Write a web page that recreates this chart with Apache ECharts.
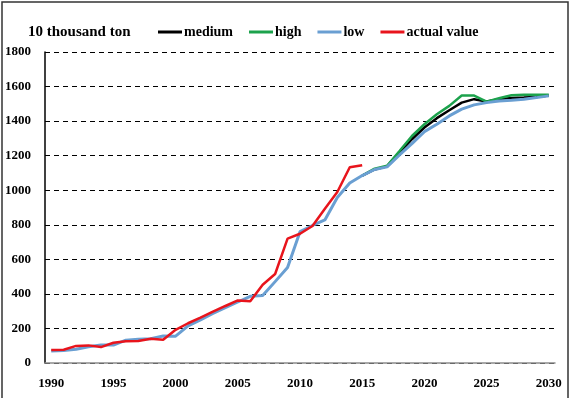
<!DOCTYPE html>
<html>
<head>
<meta charset="utf-8">
<script src="https://cdn.jsdelivr.net/npm/echarts@6/dist/echarts.min.js"></script>
<style>
    html, body { margin: 0; padding: 0; background: #fff; }
    #chart { width: 575px; height: 398px; }
</style>
</head>
<body>
<div id="chart"></div>
<script type="text/javascript">
    // 年份 1990-2030
    var years = [];
    for (var y = 1990; y <= 2030; y++) { years.push(String(y)); }

    // 实际值 1990-2015
    var actualValue = [75, 77, 99, 102, 92, 117, 126, 127, 140, 134, 192, 230, 263, 297, 330, 362, 357, 453, 515, 720, 748, 793, 893, 990, 1133, 1145];
    // 低方案 1990-2030
    var low = [70, 73, 80, 94, 104, 104, 132, 138, 141, 156, 155, 215, 250, 287, 320, 353, 386, 390, 471, 553, 760, 796, 828, 958, 1042, 1085,
        1120, 1135, 1204, 1270, 1339, 1382, 1430, 1469, 1494, 1507, 1517, 1521, 1527, 1536, 1546];
    // 中方案 2015-2030
    var medium = [1085, 1120, 1138, 1218, 1295, 1363, 1417, 1463, 1507, 1527, 1513, 1527, 1534, 1536, 1540, 1548];
    // 高方案 2015-2030
    var high = [1085, 1125, 1142, 1227, 1314, 1382, 1440, 1488, 1548, 1548, 1513, 1532, 1550, 1552, 1552, 1552];

    // 补齐前面的空位
    function pad(arr) {
        var out = [];
        for (var i = 0; i < years.length - arr.length; i++) { out.push('-'); }
        return out.concat(arr);
    }

    var font = 'Liberation Serif';
    var myChart = echarts.init(document.getElementById('chart'));
    var option = {
        animation: false,
        color: ['#000000', '#1ca24c', '#6a9fd2', '#e8141c'],
        title: {
            text: '10 thousand ton',
            left: 23,
            top: 20,
            textStyle: { fontFamily: font, fontWeight: 'bold', fontSize: 15, color: '#000' }
        },
        legend: {
            left: 153,
            top: 20,
            itemWidth: 24,
            itemHeight: 3,
            itemGap: 16,
            icon: 'rect',
            textStyle: { fontFamily: font, fontWeight: 'bold', fontSize: 14, color: '#000', padding: [0, 0, 0, -3] },
            data: ['medium', 'high', 'low', 'actual value']
        },
        grid: { left: 45, right: 20, top: 52, bottom: 35 },
        xAxis: {
            type: 'category',
            data: years,
            boundaryGap: true,
            axisLine: { lineStyle: { color: '#8c8c8c', width: 1.5 } },
            axisTick: { show: false },
            axisLabel: {
                interval: 4,
                margin: 14,
                fontFamily: font, fontWeight: 'bold', fontSize: 13, color: '#000'
            },
            splitLine: { show: false }
        },
        yAxis: {
            type: 'value',
            min: 0,
            max: 1800,
            interval: 200,
            axisLine: { show: true, lineStyle: { color: '#000', width: 1.5 } },
            axisTick: { show: false },
            axisLabel: {
                margin: 14,
                formatter: function (v) { return String(v); },
                fontFamily: font, fontWeight: 'bold', fontSize: 13, color: '#000'
            },
            splitLine: { lineStyle: { color: '#000', type: [5, 4], width: 1 } }
        },
        graphic: [{
            type: 'rect',
            shape: { x: 2, y: 2, width: 566, height: 420 },
            style: { fill: 'none', stroke: '#333', lineWidth: 1.5 },
            silent: true
        }],
        series: [
            { name: 'medium', type: 'line', data: pad(medium), showSymbol: false, lineStyle: { width: 2.5 } },
            { name: 'high', type: 'line', data: pad(high), showSymbol: false, lineStyle: { width: 2.5 } },
            { name: 'low', type: 'line', data: low, showSymbol: false, lineStyle: { width: 3 } },
            { name: 'actual value', type: 'line', data: actualValue, showSymbol: false, lineStyle: { width: 2.5 } }
        ]
    };
    myChart.setOption(option, true);
</script>
</body>
</html>
